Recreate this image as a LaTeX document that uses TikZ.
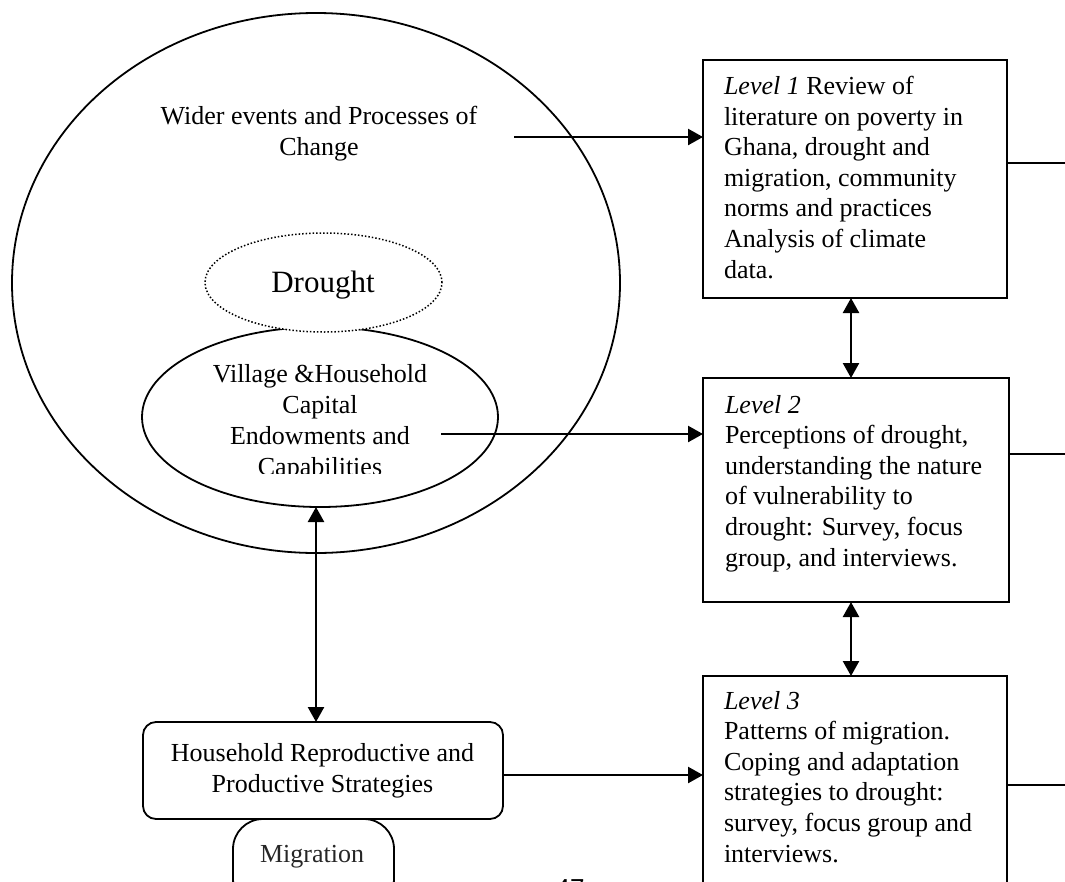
\documentclass[tikz,border=0pt]{standalone}
\usepackage{fontspec}
\setmainfont{Liberation Serif}
\newfontfamily\pagenumfont{Liberation Sans}
\usetikzlibrary{shapes.geometric,arrows.meta}

\begin{document}
\begin{tikzpicture}[x=1pt,y=-1pt,
  every node/.style={font=\fontsize{26}{30.6}\selectfont, inner sep=0pt, outer sep=0pt},
  shapeline/.style={draw, line width=1.8pt},
  levelbox/.style={draw, line width=1.8pt, rectangle, anchor=north west, minimum width=304pt},
  boxtext/.style={align=left, anchor=base west},
  arr/.style={line width=2.4pt, -{Triangle[length=15pt,width=16pt]}},
  darr/.style={line width=2.4pt, {Triangle[length=15pt,width=16pt]}-{Triangle[length=15pt,width=16pt]}},
  edgeline/.style={line width=1.8pt}]

\useasboundingbox (0,0) rectangle (1065,881);

% outer circle of wider events (multi-line texts are placed by their last baseline)
\node[ellipse, shapeline, minimum width=608pt, minimum height=540pt] (outer) at (316,283) {};
\node[align=center, anchor=base] (wider) at (319,155) {Wider events and Processes of\\Change};

% village ellipse, with drought overlapping its top
\node[ellipse, shapeline, minimum width=356pt, minimum height=180pt] (village) at (320,417) {};
\node[ellipse, draw, dotted, line width=1.5pt, fill=white, minimum width=237pt, minimum height=99pt] (drought) at (323.5,282.5) {};
\node[font=\fontsize{31}{36}\selectfont, anchor=base] (droughttxt) at (323,292) {Drought};
\begin{scope}
  \clip (140,340) rectangle (500,473);
  \node[align=center, font=\fontsize{26}{31}\selectfont, anchor=base] (villagetxt) at (320,475)
    {Village \&Household\\Capital\\Endowments and\\Capabilities};
\end{scope}

% household strategies and migration
\node[draw, line width=1.8pt, rounded corners=13pt, minimum width=360pt, minimum height=97pt, anchor=north west] (house) at (143,722) {};
\node[align=center, anchor=base] (housetxt) at (322.5,792) {Household Reproductive and\\Productive Strategies};
\node[draw, line width=1.8pt, rounded corners=30pt, minimum width=161pt, minimum height=90pt, anchor=north west] (migr) at (233,819) {};
\node[anchor=base, text=black!85] (migrtxt) at (312,862) {Migration};

% research levels
\node[levelbox, minimum height=238pt] (b1) at (703,60) {};
\node[boxtext] (t1) at (724,278) {\textit{Level 1} Review of\\literature on poverty in\\Ghana, drought and\\migration, community\\norms and practices\\Analysis of climate\\data.};
\node[levelbox, minimum width=306pt, minimum height=224pt] (b2) at (703,378) {};
\node[boxtext] (t2) at (725,566) {\textit{Level 2}\\Perceptions of drought,\\understanding the nature\\of vulnerability to\\drought: Survey, focus\\group, and interviews.};
\node[levelbox, minimum height=240pt] (b3) at (703,676) {};
\node[boxtext] (t3) at (724,862) {\textit{Level 3}\\Patterns of migration.\\Coping and adaptation\\strategies to drought:\\survey, focus group and\\interviews.};

% lines leaving the level boxes to the right
\coordinate (r1) at (1065,163);
\coordinate (r2) at (1065,454);
\coordinate (r3) at (1065,785);
\draw[edgeline] (b1.east |- r1) -- (r1);
\draw[edgeline] (b2.east |- r2) -- (r2);
\draw[edgeline] (b3.east |- r3) -- (r3);

% connectors
\coordinate (wstart) at (514,137);
\coordinate (vstart) at (441,434);
\coordinate (hy) at (0,775);
\coordinate (ax) at (851,0);
\coordinate (vx) at (316,0);
\draw[arr] (wstart) -- (b1.west |- wstart);
\draw[arr] (vstart) -- (b2.west |- vstart);
\draw[arr] (house.east |- hy) -- (b3.west |- hy);
\draw[darr] (ax |- b1.south) -- (ax |- b2.north);
\draw[darr] (ax |- b2.south) -- (ax |- b3.north);
\draw[darr] (vx |- village.south) -- (vx |- house.north);

% page number
\node[font=\pagenumfont\fontsize{26}{30}\selectfont, anchor=base] (pagenum) at (570,897) {47};
\end{tikzpicture}
\end{document}
